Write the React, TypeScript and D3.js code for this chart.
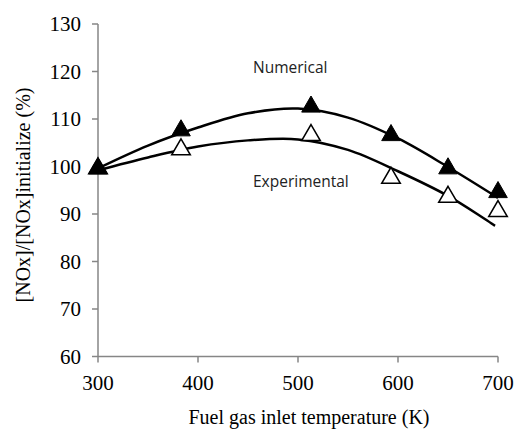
import * as d3 from "d3";

// markers
const temps = [300, 383, 513, 593, 650, 700];
const numerical = [100, 108, 113, 107, 100, 95];
const experimental = [100, 104, 107, 98, 94, 91];

// trendlines
const numTrendT = [300, 350, 400, 450, 500, 550, 600, 650, 700];
const numTrend = [99.6, 104.4, 108.2, 111.2, 112.2, 110.3, 105.9, 99.9, 93.4];
const expTrendT = [300, 350, 400, 450, 500, 550, 600, 650, 697];
const expTrend = [99.2, 101.9, 104.2, 105.5, 105.7, 103.5, 99.0, 93.8, 87.5];

const xTicks = [300, 400, 500, 600, 700];
const yTicks = [60, 70, 80, 90, 100, 110, 120, 130];

const App = () => {
  const width = 517;
  const height = 432;
  const x = d3.scaleLinear().domain([300, 700]).range([98, 498]);
  const y = d3.scaleLinear().domain([60, 130]).range([356.5, 24]);

  const line = d3
    .line<[number, number]>()
    .x((d) => x(d[0]))
    .y((d) => y(d[1]))
    .curve(d3.curveCatmullRom.alpha(0.5));

  const numPath = line(numTrendT.map((t, i) => [t, numTrend[i]])) || "";
  const expPath = line(expTrendT.map((t, i) => [t, expTrend[i]])) || "";

  const tri = d3.symbol().type(d3.symbolTriangle).size(150);
  const axisColor = "#868686";

  return (
    <svg
      width={width}
      height={height}
      style={{ position: "absolute", left: 0, top: 0, background: "#fff" }}
    >
      {/* axes */}
      <line x1={x(300)} x2={x(300)} y1={y(130)} y2={y(60)} stroke={axisColor} strokeWidth={1.5} />
      <line x1={x(300)} x2={x(700)} y1={y(60)} y2={y(60)} stroke={axisColor} strokeWidth={1.5} />
      {yTicks.map((t) => (
        <g key={t}>
          <line x1={x(300) - 6} x2={x(300)} y1={y(t)} y2={y(t)} stroke={axisColor} strokeWidth={1.5} />
          <text
            x={81}
            y={y(t)}
            dy="0.35em"
            textAnchor="end"
            fontFamily="Liberation Serif"
            fontSize={21}
          >
            {t}
          </text>
        </g>
      ))}
      {xTicks.map((t) => (
        <g key={t}>
          <line x1={x(t)} x2={x(t)} y1={y(60)} y2={y(60) + 6} stroke={axisColor} strokeWidth={1.5} />
          <text
            x={x(t)}
            y={390}
            textAnchor="middle"
            fontFamily="Liberation Serif"
            fontSize={21}
          >
            {t}
          </text>
        </g>
      ))}
      <text x={309} y={424} textAnchor="middle" fontFamily="Liberation Serif" fontSize={20}>
        Fuel gas inlet temperature (K)
      </text>
      <text
        transform="translate(30,195) rotate(-90)"
        textAnchor="middle"
        fontFamily="Liberation Serif"
        fontSize={20}
      >
        [NOx]/[NOx]initialize (%)
      </text>

      {/* trendlines */}
      <path d={numPath} fill="none" stroke="#000" strokeWidth={2.5} />
      <path d={expPath} fill="none" stroke="#000" strokeWidth={2.5} />

      {/* markers */}
      {temps.map((t, i) => (
        <path
          key={"e" + i}
          d={tri() || ""}
          transform={`translate(${x(t)},${y(experimental[i]) + 2})`}
          fill="#fff"
          stroke="#000"
          strokeWidth={1.5}
        />
      ))}
      {temps.map((t, i) => (
        <path
          key={"n" + i}
          d={tri() || ""}
          transform={`translate(${x(t)},${y(numerical[i]) + 2})`}
          fill="#000"
          stroke="#000"
          strokeWidth={1}
        />
      ))}

      <text x={x(455)} y={y(119.7)} fontFamily="Open Sans" fontSize={15.5} fill="#222">
        Numerical
      </text>
      <text x={x(455)} y={y(95.7)} fontFamily="Open Sans" fontSize={15.5} fill="#222">
        Experimental
      </text>
    </svg>
  );
};

export default App;
